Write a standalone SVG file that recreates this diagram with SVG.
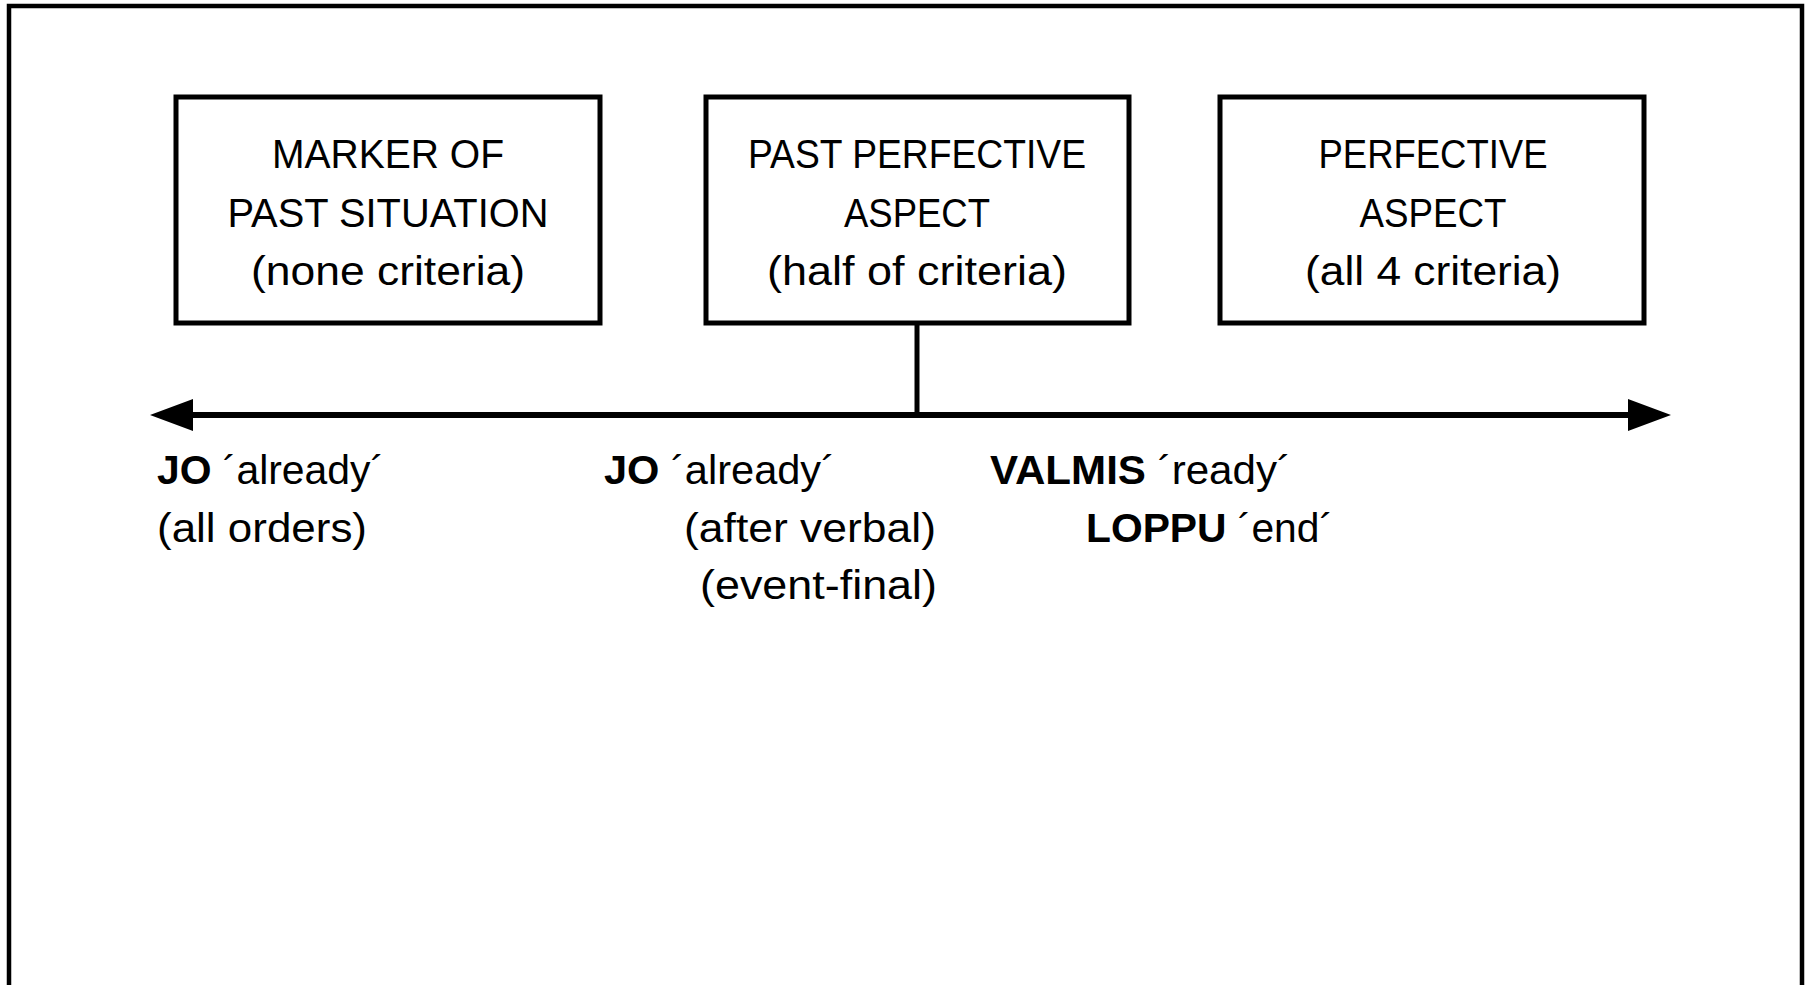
<svg xmlns="http://www.w3.org/2000/svg" width="1808" height="985" viewBox="0 0 1808 985">
<style>
.frame{fill:none;stroke:#000;stroke-width:4.5}
.box{fill:#fff;stroke:#000;stroke-width:5}
.t{font-family:"Liberation Sans",Arial,sans-serif;font-size:40px;fill:#000}
.c{text-anchor:middle}
.e{text-anchor:end}
.b{font-weight:bold}
.conn{stroke:#000;fill:none}
</style>
<defs>
<marker id="arr" markerUnits="userSpaceOnUse" markerWidth="44" markerHeight="32" refX="0" refY="16" orient="auto-start-reverse">
<path d="M0,0 L43,16 L0,32 Z" fill="#000"/>
</marker>
</defs>
<rect width="1808" height="985" fill="#fff"/>
<path class="frame" d="M9,995 V6 H1802 V995"/>
<g id="connectors">
<line class="conn" x1="917" y1="325" x2="917" y2="415" stroke-width="5"/>
<line class="conn" x1="193" y1="415" x2="1628" y2="415" stroke-width="6" marker-start="url(#arr)" marker-end="url(#arr)"/>
</g>
<g id="node-marker">
<rect class="box" x="176" y="97" width="424" height="226"/>
<text class="t c" x="388" y="168" textLength="232" lengthAdjust="spacingAndGlyphs">MARKER OF</text>
<text class="t c" x="388" y="227" textLength="321" lengthAdjust="spacingAndGlyphs">PAST SITUATION</text>
<text class="t c" x="388" y="285" textLength="274" lengthAdjust="spacingAndGlyphs">(none criteria)</text>
</g>
<g id="node-pastperf">
<rect class="box" x="706" y="97" width="423" height="226"/>
<text class="t c" x="917" y="168" textLength="338" lengthAdjust="spacingAndGlyphs">PAST PERFECTIVE</text>
<text class="t c" x="917" y="227" textLength="146" lengthAdjust="spacingAndGlyphs">ASPECT</text>
<text class="t c" x="917" y="285" textLength="300" lengthAdjust="spacingAndGlyphs">(half of criteria)</text>
</g>
<g id="node-perf">
<rect class="box" x="1220" y="97" width="424" height="226"/>
<text class="t c" x="1433" y="168" textLength="229" lengthAdjust="spacingAndGlyphs">PERFECTIVE</text>
<text class="t c" x="1433" y="227" textLength="147" lengthAdjust="spacingAndGlyphs">ASPECT</text>
<text class="t c" x="1433" y="285" textLength="256" lengthAdjust="spacingAndGlyphs">(all 4 criteria)</text>
</g>
<g id="label-jo1">
<text class="t" x="157" y="484" textLength="227" lengthAdjust="spacingAndGlyphs"><tspan class="b">JO</tspan> ´already´</text>
<text class="t" x="157" y="542" textLength="210" lengthAdjust="spacingAndGlyphs">(all orders)</text>
</g>
<g id="label-jo2">
<text class="t" x="604" y="484" textLength="231" lengthAdjust="spacingAndGlyphs"><tspan class="b">JO</tspan> ´already´</text>
<text class="t e" x="936" y="542" textLength="252" lengthAdjust="spacingAndGlyphs">(after verbal)</text>
<text class="t e" x="937" y="599" textLength="237" lengthAdjust="spacingAndGlyphs">(event-final)</text>
</g>
<g id="label-valmis">
<text class="t" x="990" y="484" textLength="301" lengthAdjust="spacingAndGlyphs"><tspan class="b">VALMIS</tspan> ´ready´</text>
<text class="t" x="1086" y="542" textLength="247" lengthAdjust="spacingAndGlyphs"><tspan class="b">LOPPU</tspan> ´end´</text>
</g>
</svg>
